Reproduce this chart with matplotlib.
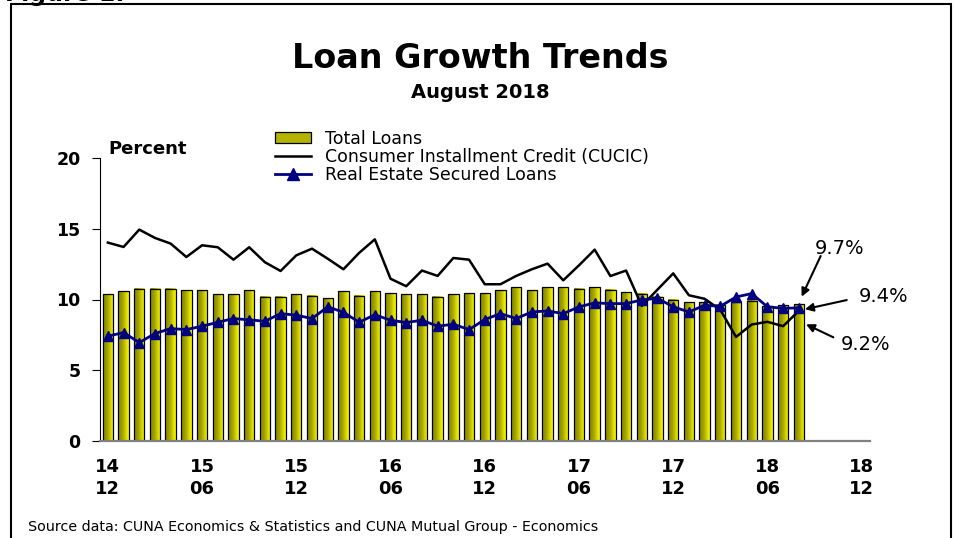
import matplotlib
matplotlib.use('Agg')
import matplotlib.pyplot as plt
import numpy as np
from matplotlib.colors import LinearSegmentedColormap
from matplotlib.lines import Line2D
from matplotlib.patches import Rectangle

# Monthly series, Dec 2014 .. Aug 2018 (annual growth, percent)
total_loans = [10.40, 10.61, 10.77, 10.77, 10.77, 10.68, 10.68, 10.40, 10.40, 10.68,
               10.21, 10.21, 10.40, 10.28, 10.11, 10.61, 10.28, 10.61, 10.47, 10.40,
               10.40, 10.21, 10.40, 10.47, 10.47, 10.68, 10.89, 10.68, 10.89, 10.89,
               10.77, 10.89, 10.70, 10.51, 10.42, 10.21, 10.00, 9.83, 9.83, 9.64,
               9.83, 9.92, 9.52, 9.62, 9.7]
cucic = [14.03, 13.72, 14.95, 14.36, 13.96, 13.01, 13.84, 13.70, 12.82, 13.70,
         12.64, 12.02, 13.13, 13.60, 12.89, 12.14, 13.30, 14.26, 11.47, 10.94,
         12.05, 11.67, 12.94, 12.82, 11.08, 11.08, 11.67, 12.14, 12.54, 11.36,
         12.42, 13.53, 11.66, 12.05, 9.55, 10.70, 11.85, 10.30, 10.05, 9.27,
         7.35, 8.23, 8.42, 8.11, 9.2]
real_estate = [7.40, 7.66, 6.95, 7.59, 7.94, 7.87, 8.11, 8.39, 8.65, 8.56,
               8.46, 9.00, 8.89, 8.65, 9.48, 9.10, 8.39, 8.92, 8.53, 8.37,
               8.53, 8.11, 8.25, 7.87, 8.58, 9.00, 8.65, 9.12, 9.19, 9.00,
               9.48, 9.76, 9.71, 9.71, 9.97, 10.09, 9.48, 9.12, 9.59, 9.52,
               10.18, 10.42, 9.48, 9.38, 9.4]

tick_pos = [0, 6, 12, 18, 24, 30, 36, 42, 48]
tick_labels = ['14\n12', '15\n06', '15\n12', '16\n06', '16\n12',
               '17\n06', '17\n12', '18\n06', '18\n12']

NAVY = '#000080'
W, H = 955, 538

fig = plt.figure(figsize=(W / 100, H / 100), dpi=100)
ax = fig.add_axes([100 / W, 1 - 440.7 / H, 769.5 / W, 282.4 / H])

x = np.arange(len(total_loans))

# bars: outlined rectangles filled with a left-to-right olive/yellow gradient
bar_cmap = LinearSegmentedColormap.from_list(
    'bar', [(0, '#c8c800'), (0.12, '#8a8a00'), (0.45, '#a8a800'),
            (1, '#ffff00')])
grad = np.linspace(0, 1, 64).reshape(1, -1)
bars = ax.bar(x, total_loans, width=0.66, facecolor='none',
              edgecolor='black', linewidth=0.9, zorder=3)
for b in bars:
    x0, w, h = b.get_x(), b.get_width(), b.get_height()
    ax.imshow(grad, extent=[x0, x0 + w, 0, h], cmap=bar_cmap,
              aspect='auto', interpolation='bilinear', zorder=2)

ax.plot(x, cucic, color='black', linewidth=1.8, zorder=4)
ax.plot(x, real_estate, color=NAVY, linewidth=2, marker='^',
        markersize=7.5, zorder=5)

ax.set_xlim(-0.5, 48.5)
ax.set_ylim(0, 20)
ax.set_yticks([0, 5, 10, 15, 20])
ax.set_xticks(tick_pos)
ax.set_xticklabels(tick_labels, fontsize=13, fontweight='bold')
for lbl in ax.get_xticklabels():
    lbl.set_linespacing(1.3)
for lbl in ax.get_yticklabels():
    lbl.set_fontweight('bold')
ax.tick_params(axis='x', length=0, pad=12.5)
ax.tick_params(axis='y', length=6, width=0.8, pad=8, labelsize=12.5)

for side in ('top', 'right'):
    ax.spines[side].set_visible(False)
ax.spines['left'].set_linewidth(0.8)
ax.spines['bottom'].set_color('#808080')
ax.spines['bottom'].set_linewidth(1.6)
ax.spines['bottom'].set_zorder(6)

# value callouts at the latest month
ax.text(46.62, 13.61, '9.7%', fontsize=14, ha='center', va='center')
ax.text(49.39, 10.21, '9.4%', fontsize=14, ha='center', va='center')
ax.text(48.22, 6.78, '9.2%', fontsize=14, ha='center', va='center')
arrow = dict(arrowstyle='-|>', color='black', lw=1.5, mutation_scale=12,
             shrinkA=0, shrinkB=0)
ax.annotate('', xy=(44.18, 10.20), xytext=(45.39, 13.08),
            arrowprops=arrow, annotation_clip=False)
ax.annotate('', xy=(44.39, 9.31), xytext=(47.05, 9.96),
            arrowprops=arrow, annotation_clip=False)
ax.annotate('', xy=(44.46, 8.24), xytext=(46.20, 7.32),
            arrowprops=arrow, annotation_clip=False)

handles = [Rectangle((0, 0), 1, 1, facecolor='#b4b400', edgecolor='black', lw=0.9),
           Line2D([], [], color='black', lw=1.8),
           Line2D([], [], color=NAVY, lw=2, marker='^', markersize=8)]
labels = ['Total Loans', 'Consumer Installment Credit (CUCIC)',
          'Real Estate Secured Loans']
fig.legend(handles, labels, loc='upper left',
           bbox_to_anchor=(275 / W, 1 - 130 / H), frameon=False,
           fontsize=12.5, borderpad=0, borderaxespad=0, handlelength=2.1,
           handleheight=0.6, handletextpad=0.8, labelspacing=0.0)

fig.text(480 / W, 1 - 58.5 / H, 'Loan Growth Trends', fontsize=24,
         fontweight='bold', ha='center', va='center')
fig.text(480 / W, 1 - 92 / H, 'August 2018', fontsize=14,
         fontweight='bold', ha='center', va='center')
fig.text(108 / W, 1 - 148.5 / H, 'Percent', fontsize=13,
         fontweight='bold', ha='left', va='center')
fig.text(5 / W, 1 - 1 / H, 'Figure 1:', fontsize=17,
         fontweight='bold', ha='left', va='baseline')
fig.text(28 / W, 1 - 527 / H,
         'Source data: CUNA Economics & Statistics and CUNA Mutual Group - Economics',
         fontsize=10.3, ha='left', va='center')

# page frame around the exhibit
fig.add_artist(Rectangle((11 / W, -0.1), 940 / W, 1.1 - 3.8 / H,
                         transform=fig.transFigure, fill=False,
                         edgecolor='black', linewidth=1.5))

fig.savefig('out.png', dpi=100)
